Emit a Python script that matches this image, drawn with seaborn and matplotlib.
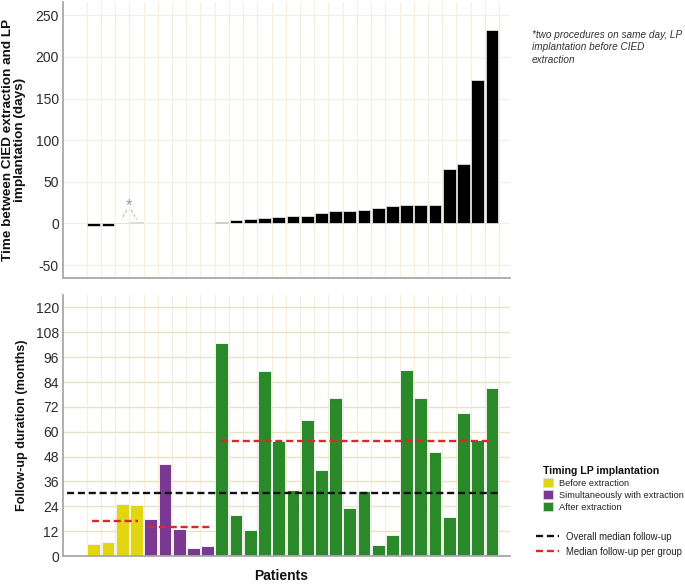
import numpy as np
import pandas as pd
import matplotlib
matplotlib.use("Agg")
import matplotlib.pyplot as plt
from matplotlib.patches import Patch
from matplotlib.lines import Line2D
import seaborn as sns

# ---------------- data ----------------
groups = ["Before extraction", "Simultaneously with extraction", "After extraction"]
group_sizes = [4, 5, 20]

followup_before = [6.0, 6.6, 25.3, 24.7]
followup_simult = [17.9, 44.4, 12.9, 3.7, 4.8]
followup_after = [102.7, 19.8, 12.7, 89.4, 55.6, 31.8, 65.6, 41.5, 76.1, 23.3,
                  31.5, 5.2, 10.0, 89.7, 76.5, 50.2, 18.7, 68.9, 56.1, 81.0]

days_before = [-3.5, -3.0, 0.5, 1.5]          # last two: same-day procedures (*)
days_after = [2.0, 4.0, 5.2, 6.4, 7.2, 8.4, 8.4, 12.0, 14.4, 14.8,
              16.4, 18.4, 20.4, 21.6, 21.6, 21.6, 65.2, 70.8, 172.8, 232.8]
same_day_flags = [False, False, True, True]

overall_median = 30.6
group_medians = [16.9, 14.0, 55.5]

top_yticks = [-50, 0, 50, 100, 150, 200, 250]
bottom_yticks = [0, 12, 24, 36, 48, 60, 72, 84, 96, 108, 120]

colors = {"Before extraction": "#E2D512",
          "Simultaneously with extraction": "#7A3892",
          "After extraction": "#2A8A2A"}

# ---------------- tables ----------------
n = sum(group_sizes)
patients = [f"P{i+1:02d}" for i in range(n)]
grp = sum([[g] * s for g, s in zip(groups, group_sizes)], [])
df_fu = pd.DataFrame({"patient": patients, "group": grp,
                      "followup": followup_before + followup_simult + followup_after})

top_patients = patients[:4] + patients[9:]
top_kind = ["same" if f else "normal" for f in same_day_flags] + ["normal"] * len(days_after)
df_days = pd.DataFrame({"patient": top_patients, "days": days_before + days_after,
                        "kind": top_kind})

# ---------------- style ----------------
sns.set_theme(style="white")
plt.rcParams["font.family"] = ["Liberation Sans", "DejaVu Sans"]
plt.rcParams["axes.unicode_minus"] = False

W, H = 685, 584
fig = plt.figure(figsize=(W / 100, H / 100), dpi=100)
ax1 = fig.add_axes([63 / W, 1 - 278 / H, 447 / W, 276 / H])
ax2 = fig.add_axes([63 / W, 1 - 556 / H, 447 / W, 261 / H])

vgrid = "#F3F0DE"
hgrid_top = "#F3F0E2"
hgrid_bot = "#E9E3C3"
spine_c = "#A8A8A8"
tick_c = "#2b2b2b"

# top chart
sns.barplot(data=df_days, x="patient", y="days", hue="kind", order=patients,
            hue_order=["normal", "same"],
            palette={"normal": "#000000", "same": "#A9A9A9"}, saturation=1,
            width=0.9, edgecolor="#E0E0E0", linewidth=0.6, legend=False, ax=ax1)

# bottom chart
sns.barplot(data=df_fu, x="patient", y="followup", hue="group", order=patients,
            hue_order=groups, palette=colors, saturation=1, width=0.9,
            edgecolor="#F2F2F2", linewidth=0.7, legend=False, ax=ax2)

for ax in (ax1, ax2):
    ax.set_xlim(-2.17, n - 0.5 + 0.77)
    ax.set_xticks(np.arange(-0.5, n, 1.0))
    ax.set_xticklabels([])
    ax.xaxis.grid(True, color=vgrid, linewidth=0.9)
    ax.set_axisbelow(True)
    for s in ("top", "right"):
        ax.spines[s].set_visible(False)
    for s in ("left", "bottom"):
        ax.spines[s].set_color(spine_c)
        ax.spines[s].set_linewidth(1.3)
    ax.tick_params(axis="y", length=0, labelsize=10, labelcolor=tick_c, pad=3)
    ax.tick_params(axis="x", length=3, color=spine_c, width=0.8, direction="out")

ax1.set_ylim(-65.6, 266)
ax1.set_yticks(top_yticks)
ax1.yaxis.grid(True, color=hgrid_top, linewidth=0.9)
ax1.set_xlabel("")
ax1.set_ylabel("Time between CIED extraction and LP\nimplantation (days)",
               fontsize=9.7, fontweight="bold", color="#111111", linespacing=1.0)
ax1.yaxis.set_label_coords(-0.082, 0.5)

ax2.set_ylim(0, 126)
ax2.set_yticks(bottom_yticks)
ax2.yaxis.grid(True, color=hgrid_bot, linewidth=1.0)
ax2.set_ylabel("Follow-up duration (months)", fontsize=9.1, fontweight="bold",
               color="#111111")
ax2.yaxis.set_label_coords(-0.078, 0.5)
ax2.set_xlabel("Patients", fontsize=10, fontweight="bold", color="#111111")
ax2.xaxis.set_label_coords(0.487, -0.05)

# asterisk annotation for same-day procedures
ax1.text(2.45, 21.5, "*", ha="center", va="center", color="#999999", fontsize=12)
ax1.plot([2.31, 1.96], [16, 4.8], color="#B0B0B0", lw=0.7, ls=(0, (3, 2)))
ax1.plot([2.62, 3.02], [16, 4.8], color="#B0B0B0", lw=0.7, ls=(0, (3, 2)))

# median lines
dash = (0, (3, 1.6))
ax2.hlines(overall_median, -1.9, 28.4, colors="#111111", lw=1.7, linestyles=[dash])
seg_extents = [(-0.15, 3.1), (3.81, 8.22), (8.94, 27.98)]
for med, (x0, x1) in zip(group_medians, seg_extents):
    ax2.hlines(med, x0, x1, colors="#D42A2A", lw=1.7, linestyles=[dash])

# footnote
fig.text(532 / W, 1 - 30 / H,
         "*two procedures on same day, LP\nimplantation before CIED\nextraction",
         ha="left", va="top", fontsize=7.2, style="italic", color="#333333",
         linespacing=1.3)

# legends
patch_handles = [Patch(facecolor=colors[g], edgecolor="#DDDDDD", linewidth=0.5)
                 for g in groups]
leg1 = fig.legend(patch_handles, groups, loc="upper left",
                  bbox_to_anchor=(538 / W, 1 - 461 / H), frameon=False,
                  fontsize=6.7, title="Timing LP implantation",
                  title_fontproperties={"weight": "bold", "size": 7.6},
                  alignment="left", borderpad=0, handlelength=1.1,
                  handleheight=1.1, handletextpad=0.65, labelspacing=0.25,
                  labelcolor="#222222")
leg1.get_title().set_color("#111111")

line_handles = [Line2D([], [], color="#111111", lw=1.7, ls=dash),
                Line2D([], [], color="#D42A2A", lw=1.7, ls=dash)]
fig.legend(line_handles, ["Overall median follow-up", "Median follow-up per group"],
           loc="upper left", bbox_to_anchor=(531 / W, 1 - 527 / H), frameon=False,
           fontsize=6.9, borderpad=0, handlelength=2.4, handletextpad=0.8,
           labelspacing=0.5, labelcolor="#222222")

fig.savefig("out.png", dpi=100)
